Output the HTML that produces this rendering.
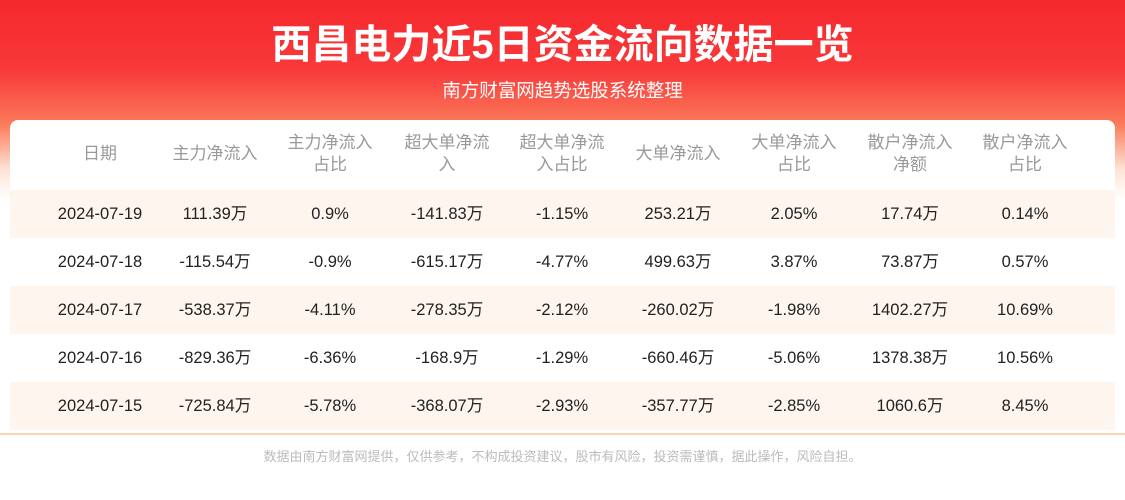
<!DOCTYPE html>
<html><head><meta charset="utf-8"><style>
body{margin:0;width:1125px;height:500px;overflow:hidden;background:#fff;font-family:"Liberation Sans","Noto Sans CJK SC",sans-serif;position:relative}
.hdr{position:absolute;left:0;top:0;width:1125px;height:200px;background:linear-gradient(#f5282c 0%,#f8393a 35%,#fb7a5a 62%,#fde4d6 85%,#fff 100%)}
.t{position:absolute;top:12px;width:1125px;text-align:center;color:#fff;font-size:40px;font-weight:bold}
.s{position:absolute;top:77px;width:1125px;text-align:center;color:#fff;font-size:18.5px}
.card{position:absolute;left:10px;top:120px;width:1105px;height:314px;background:#fff;border-radius:8px}
.row{position:absolute;left:10px;width:1105px;height:48px}
.row div{position:absolute;transform:translateX(-50%);text-align:center;white-space:nowrap}
.h div{color:#999;font-size:17px;line-height:22px;top:50%;transform:translate(-50%,-50%)}
.d div{color:#222;font-size:16.5px;top:0;height:48px;line-height:48px}
.sh{background:#fdf5ee}
.line{position:absolute;left:0;top:433px;width:1125px;height:2px;background:#fbd3b4}
.f{position:absolute;top:446px;width:1125px;text-align:center;color:#bbb;font-size:13px}
</style></head><body>
<div class="hdr"></div>
<div class="t">西昌电力近5日资金流向数据一览</div>
<div class="s">南方财富网趋势选股系统整理</div>
<div class="card"></div>
<div class="row h" style="top:130px;height:48px">
<div style="left:90px">日期</div><div style="left:205px">主力净流入</div><div style="left:320px">主力净流入<br>占比</div><div style="left:437px">超大单净流<br>入</div><div style="left:552px">超大单净流<br>入占比</div><div style="left:668px">大单净流入</div><div style="left:784px">大单净流入<br>占比</div><div style="left:900px">散户净流入<br>净额</div><div style="left:1015px">散户净流入<br>占比</div></div>
<div class="row d sh" style="top:190px"><div style="left:90px">2024-07-19</div><div style="left:205px">111.39万</div><div style="left:320px">0.9%</div><div style="left:437px">-141.83万</div><div style="left:552px">-1.15%</div><div style="left:668px">253.21万</div><div style="left:784px">2.05%</div><div style="left:900px">17.74万</div><div style="left:1015px">0.14%</div></div>
<div class="row d" style="top:238px"><div style="left:90px">2024-07-18</div><div style="left:205px">-115.54万</div><div style="left:320px">-0.9%</div><div style="left:437px">-615.17万</div><div style="left:552px">-4.77%</div><div style="left:668px">499.63万</div><div style="left:784px">3.87%</div><div style="left:900px">73.87万</div><div style="left:1015px">0.57%</div></div>
<div class="row d sh" style="top:286px"><div style="left:90px">2024-07-17</div><div style="left:205px">-538.37万</div><div style="left:320px">-4.11%</div><div style="left:437px">-278.35万</div><div style="left:552px">-2.12%</div><div style="left:668px">-260.02万</div><div style="left:784px">-1.98%</div><div style="left:900px">1402.27万</div><div style="left:1015px">10.69%</div></div>
<div class="row d" style="top:334px"><div style="left:90px">2024-07-16</div><div style="left:205px">-829.36万</div><div style="left:320px">-6.36%</div><div style="left:437px">-168.9万</div><div style="left:552px">-1.29%</div><div style="left:668px">-660.46万</div><div style="left:784px">-5.06%</div><div style="left:900px">1378.38万</div><div style="left:1015px">10.56%</div></div>
<div class="row d sh" style="top:382px"><div style="left:90px">2024-07-15</div><div style="left:205px">-725.84万</div><div style="left:320px">-5.78%</div><div style="left:437px">-368.07万</div><div style="left:552px">-2.93%</div><div style="left:668px">-357.77万</div><div style="left:784px">-2.85%</div><div style="left:900px">1060.6万</div><div style="left:1015px">8.45%</div></div>
<div class="line"></div>
<div class="f">数据由南方财富网提供，仅供参考，不构成投资建议，股市有风险，投资需谨慎，据此操作，风险自担。</div>
</body></html>
